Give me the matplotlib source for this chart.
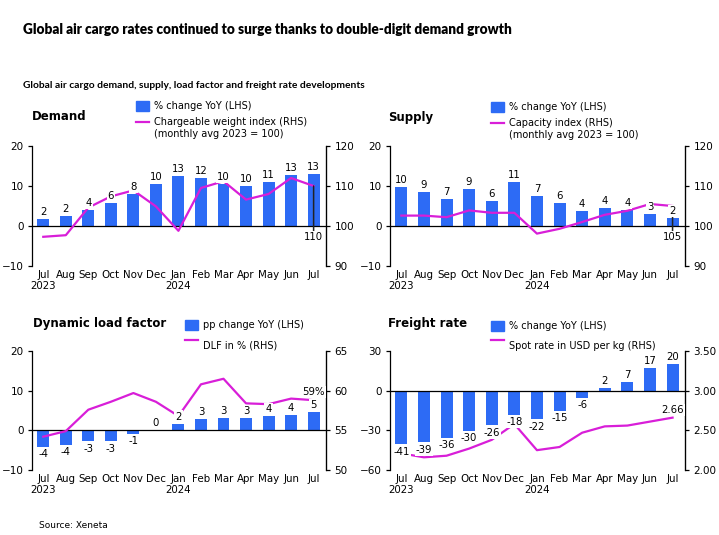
import numpy as np
import matplotlib
matplotlib.use('Agg')
import matplotlib.pyplot as plt
from matplotlib.patches import Rectangle
from matplotlib.lines import Line2D

months = ['Jul\n2023', 'Aug', 'Sep', 'Oct', 'Nov', 'Dec', 'Jan\n2024',
          'Feb', 'Mar', 'Apr', 'May', 'Jun', 'Jul']

# demand
dem_yoy = [1.7, 2.4, 4.0, 5.8, 8.1, 10.4, 12.6, 11.9, 10.4, 10.0, 11.1, 12.8, 13.0]
dem_idx = [97.3, 97.7, 104.6, 107.4, 108.9, 104.9, 98.8, 109.5, 111.2, 106.6, 108.0, 112.0, 110.0]
# supply
sup_yoy = [9.8, 8.6, 6.8, 9.3, 6.3, 11.0, 7.4, 5.8, 3.8, 4.4, 4.1, 3.0, 2.1]
sup_idx = [102.6, 102.6, 102.2, 103.9, 103.3, 103.3, 98.1, 99.3, 101.0, 102.8, 103.8, 105.5, 105.0]
# dynamic load factor
dlf_pp = [-4.3, -3.6, -2.8, -2.8, -1.0, 0.0, 1.7, 2.8, 3.1, 3.1, 3.6, 3.8, 4.6]
dlf_pct = [54.2, 54.9, 57.6, 58.6, 59.7, 58.6, 56.8, 60.8, 61.5, 58.4, 58.3, 59.0, 58.8]
# freight rate
frt_yoy = [-40.7, -39.2, -35.7, -30.4, -26.3, -18.3, -21.8, -15.1, -5.8, 1.8, 6.6, 17.1, 19.9]
frt_usd = [2.21, 2.16, 2.18, 2.27, 2.38, 2.58, 2.25, 2.29, 2.47, 2.55, 2.56, 2.61, 2.66]

BLUE = '#2D6BF5'
MAG = '#D81ED8'
W, H = 719, 535

plt.rcParams['font.family'] = ['DejaVu Sans']
fig = plt.figure(figsize=(W / 100, H / 100), dpi=100)


def fx(px):
    return px / W


def fy(py):
    return 1 - py / H


def panel(rect, yoy, line, ylim, yticks, ylim2, yticks2, fmt2,
          end_text, end_y, leader=False):
    ax = fig.add_axes(rect)
    ax2 = ax.twinx()
    x = np.arange(len(months))
    ax.bar(x, yoy, width=0.53, color=BLUE, zorder=2)
    ax.axhline(0, color='black', lw=0.9, zorder=3)
    ax2.plot(x, line, color=MAG, lw=1.6, zorder=2)

    ax.set_xlim(-0.5, 12.55)
    ax.set_ylim(*ylim)
    ax.set_yticks(yticks)
    ax2.set_ylim(*ylim2)
    ax2.set_yticks(yticks2)
    ax2.set_yticklabels([fmt2.format(v) for v in yticks2])
    ax.set_xticks(x)
    ax.set_xticklabels(months, fontsize=7.4, linespacing=1.1)
    for a in (ax, ax2):
        a.spines['top'].set_visible(False)
        a.spines['bottom'].set_visible(False)
        a.tick_params(axis='y', labelsize=7.5, length=3, width=0.9, pad=3)
    ax.spines['left'].set_linewidth(0.9)
    ax2.spines['right'].set_linewidth(0.9)
    ax2.spines['left'].set_visible(False)
    ax.tick_params(axis='x', length=0, pad=3)

    # bar labels drawn on the twin axes so they sit over the line
    for xi, v in zip(x, yoy):
        if v >= 0:
            off, va = 1.5, 'bottom'
        else:
            off, va = -1.5, 'top'
        ax2.annotate(f'{v:.0f}', xy=(xi, v), xycoords=ax.transData,
                     xytext=(0, off), textcoords='offset points',
                     ha='center', va=va, fontsize=7.3, zorder=6,
                     bbox=dict(boxstyle='square,pad=0.1', fc='white', ec='none'))

    if leader:
        ax2.annotate(end_text, xy=(x[-1], line[-1]), xytext=(x[-1], end_y),
                     ha='center', va='center', fontsize=7.3, zorder=4,
                     bbox=dict(boxstyle='square,pad=0.1', fc='white', ec='none'),
                     arrowprops=dict(arrowstyle='-', color='#222222', lw=1.1,
                                     shrinkA=0, shrinkB=0))
    else:
        ax2.text(x[-1], end_y, end_text, ha='center', va='center',
                 fontsize=7.3, zorder=6,
                 bbox=dict(boxstyle='square,pad=0.1', fc='white', ec='none'))
    return ax, ax2


def legend_block(px, py_bar, py_line, bar_text, line_text):
    fig.add_artist(Rectangle((fx(px), fy(py_bar + 5)), fx(13), 10 / H,
                             transform=fig.transFigure, color=BLUE))
    fig.text(fx(px + 18), fy(py_bar), bar_text, fontsize=7, va='center')
    fig.add_artist(Line2D([fx(px), fx(px + 13)], [fy(py_line), fy(py_line)],
                          transform=fig.transFigure, color=MAG, lw=1.6))
    fig.text(fx(px + 18), fy(py_line + 6), line_text, fontsize=7, va='center',
             linespacing=1.15)


top_h = (266 - 146) / H
bot_h = (470 - 351) / H
lw_ = (326 - 32) / W
rw_ = (685 - 390) / W

panel([fx(32), fy(266), lw_, top_h], dem_yoy, dem_idx, (-10, 20), [-10, 0, 10, 20],
      (90, 120), [90, 100, 110, 120], '{:.0f}', f'{dem_idx[-1]:.0f}', 97.2, leader=True)
panel([fx(390), fy(266), rw_, top_h], sup_yoy, sup_idx, (-10, 20), [-10, 0, 10, 20],
      (90, 120), [90, 100, 110, 120], '{:.0f}', f'{sup_idx[-1]:.0f}', 97.2, leader=True)
panel([fx(32), fy(470), lw_, bot_h], dlf_pp, dlf_pct, (-10, 20), [-10, 0, 10, 20],
      (50, 65), [50, 55, 60, 65], '{:.0f}', f'{dlf_pct[-1]:.0f}%', 59.8)
panel([fx(390), fy(470), rw_, bot_h], frt_yoy, frt_usd, (-60, 30), [-60, -30, 0, 30],
      (2.0, 3.5), [2.0, 2.5, 3.0, 3.5], '{:.2f}', f'{frt_usd[-1]:.2f}', 2.76)

# titles
fig.text(fx(23), fy(29), 'Global air cargo rates continued to surge thanks to double-digit demand growth',
         fontsize=9.8, fontweight='heavy', va='center', family=['Lato', 'DejaVu Sans'])
fig.text(fx(23), fy(86), 'Global air cargo demand, supply, load factor and freight rate developments',
         fontsize=7.4, fontweight='bold', va='center', family=['Lato', 'DejaVu Sans'])
fig.text(fx(32), fy(117), 'Demand', fontsize=8.5, fontweight='bold', va='center')
fig.text(fx(388), fy(118), 'Supply', fontsize=8.5, fontweight='bold', va='center')
fig.text(fx(33), fy(323), 'Dynamic load factor', fontsize=8.5, fontweight='bold', va='center')
fig.text(fx(388), fy(323), 'Freight rate', fontsize=8.5, fontweight='bold', va='center')

legend_block(136, 106, 122, '% change YoY (LHS)',
             'Chargeable weight index (RHS)\n(monthly avg 2023 = 100)')
legend_block(491, 107, 123, '% change YoY (LHS)',
             'Capacity index (RHS)\n(monthly avg 2023 = 100)')
legend_block(185, 325, 340, 'pp change YoY (LHS)', 'DLF in % (RHS)')
legend_block(491, 326, 340, '% change YoY (LHS)', 'Spot rate in USD per kg (RHS)')

fig.text(fx(39), fy(526), 'Source: Xeneta', fontsize=6.5, va='center')

fig.savefig('out.png', dpi=100, facecolor='white')
